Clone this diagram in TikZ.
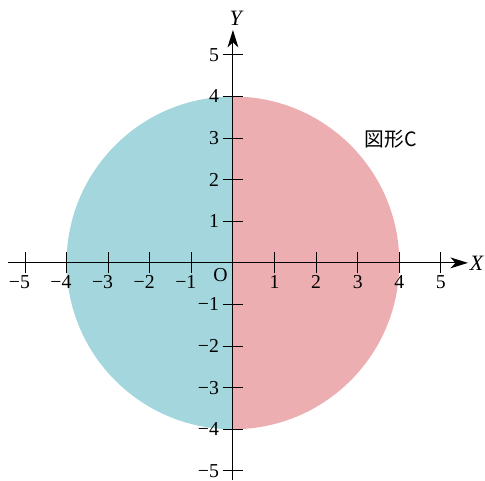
\documentclass[tikz,border=0pt]{standalone}
\usepackage{fontspec}
\setmainfont{Liberation Serif}
\newfontfamily\jpfont{Noto Sans CJK JP}
\usetikzlibrary{arrows.meta}
\definecolor{leftteal}{RGB}{163,214,221}
\definecolor{rightpink}{RGB}{236,174,176}

\begin{document}
\begin{tikzpicture}[
  axis/.style={line width=0.75pt,-{Stealth[length=0.42cm,width=0.26cm,inset=0.12cm]}},
  tickmark/.style={line width=0.6pt},
  lbl/.style={inner sep=0pt,font=\fontsize{13.5}{15}\selectfont}]
  \useasboundingbox (-5.6,-5.22) rectangle (6.06,6.32);
  % two halves of the disc
  \fill[leftteal]  (0,4) arc (90:270:4) -- cycle;
  \fill[rightpink] (0,-4) arc (-90:90:4) -- cycle;
  % axes
  \coordinate (xstart) at (-5.41,0);
  \coordinate (xend)   at (5.65,0);
  \coordinate (ystart) at (0,-5.22);
  \coordinate (yend)   at (0,5.6);
  \draw[axis] (xstart) -- (xend);
  \draw[axis] (ystart) -- (yend);
  \node[lbl,font=\fontsize{15}{17}\selectfont] (xlab) at (5.86,0)  {\itshape X};
  \node[lbl,font=\fontsize{15}{17}\selectfont] (ylab) at (0.07,5.87) {\itshape Y};
  \node[lbl,anchor=north east] (orig) at (-0.12,-0.12) {O};
  % ticks and numbers
  \foreach \i in {1,...,5} {
    \draw[tickmark] (\i,-0.25) -- (\i,0.25);
    \draw[tickmark] (-\i,-0.25) -- (-\i,0.25);
    \draw[tickmark] (-0.25,\i) -- (0.25,\i);
    \draw[tickmark] (-0.25,-\i) -- (0.25,-\i);
    \node[lbl,anchor=north] (xp\i) at (\i,-0.29)  {\i};
    \node[lbl,anchor=north] (xm\i) at (-\i,-0.29) {\llap{−}\i};
    \node[lbl,anchor=east]  (yp\i) at (-0.33,\i)  {\i};
    \node[lbl,anchor=east]  (ym\i) at (-0.33,-\i) {−\i};
  }
  \node[font=\jpfont\fontsize{13.5}{15}\selectfont] (name) at (3.8,2.98) {図形C};
\end{tikzpicture}
\end{document}
